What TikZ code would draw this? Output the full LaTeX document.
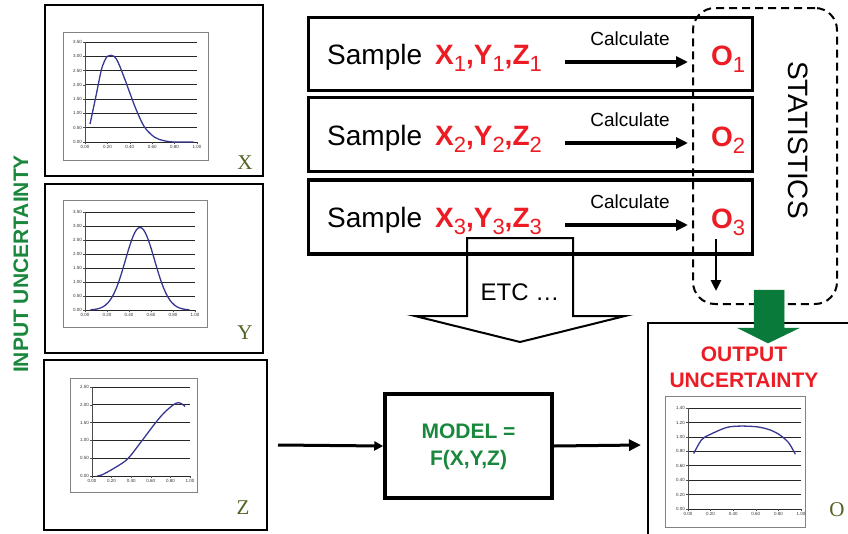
\documentclass[tikz,border=0pt]{standalone}
\usepackage{fontspec}
\setmainfont{Liberation Sans}
\newfontfamily\lblserif{Liberation Serif}
\usetikzlibrary{arrows.meta}
\definecolor{ugreen}{RGB}{25,135,60}
\definecolor{agreen}{RGB}{10,122,58}
\definecolor{ured}{RGB}{237,28,36}
\definecolor{olive}{RGB}{80,100,35}
\definecolor{cblue}{RGB}{55,55,145}
\definecolor{frgray}{RGB}{130,130,130}
\newcommand\sbx[1]{\raisebox{-7pt}{\fontsize{22}{22}\mdseries\selectfont #1}}
\tikzset{
  thickbox/.style={draw, line width=3.5pt, inner sep=0pt},
  inbox/.style={draw, line width=2.8pt, inner sep=0pt},
  gridl/.style={draw=black!85, line width=0.8pt},
  axl/.style={draw=black!70, line width=0.6pt},
  plotframe/.style={draw=frgray, line width=1pt},
  curve/.style={draw=cblue, line width=1.3pt},
  ylab/.style={anchor=east, inner sep=0pt, xshift=-3pt, font=\fontsize{4.5}{5}\selectfont, text=black!80},
  xlab/.style={anchor=north, inner sep=0pt, yshift=-3pt, font=\fontsize{4.5}{5}\selectfont, text=black!80},
  vlabel/.style={font=\lblserif\fontsize{21}{21}\selectfont, text=olive, inner sep=0pt},
  rowtext/.style={anchor=base west, inner sep=0pt, font=\fontsize{28}{30}\selectfont},
  calc/.style={inner sep=0pt, font=\fontsize{19}{20}\selectfont},
  arr/.style={line width=3.2pt, -{Triangle[length=12pt,width=11pt]}},
  gtext/.style={text=ugreen, font=\bfseries\fontsize{21}{25}\selectfont, align=center, inner sep=0pt},
}
\newcommand\drawplot[8]{%
  \begin{scope}[shift={(#2,#3)}, x=#4pt, y=#5pt]
    \foreach \i in {0,...,#6} {
      \pgfmathsetmacro\vv{\i*#7}
      \draw[gridl] (0,\vv) -- (1,\vv);
      \draw[axl] (0,\vv) -- ++(-2pt,0pt);
      \node[ylab] (#1y\i) at (0,\vv) {\pgfmathprintnumber[fixed,fixed zerofill,precision=2,assume math mode=true]{\vv}};
    }
    \pgfmathsetmacro\plottop{#6*#7}
    \draw[axl, line width=0.9pt] (0,0) -- (0,\plottop);
    \foreach \i in {0,...,5} {
      \pgfmathsetmacro\vv{\i*0.2}
      \draw[axl] (\vv,0) -- ++(0pt,-2pt);
      \node[xlab] (#1x\i) at (\vv,0) {\pgfmathprintnumber[fixed,fixed zerofill,precision=2,assume math mode=true]{\vv}};
    }
    \draw[curve] #8;
  \end{scope}}
\begin{document}
\begin{tikzpicture}[x=1pt,y=-1pt]
\useasboundingbox (0,0) rectangle (848,533);
\clip (0,0) rectangle (848,533);

% ---------- input boxes ----------
\node[inbox, minimum width=218pt, minimum height=171pt] (boxX) at (154,90.5) {};
\node[inbox, minimum width=218pt, minimum height=169pt] (boxY) at (154,268.5) {};
\node[inbox, minimum width=223pt, minimum height=170pt] (boxZ) at (155.5,445) {};

\draw[plotframe] (63,32) rectangle (208,160);
\drawplot{px}{85}{142}{112}{28.57}{7}{0.5}{plot[smooth] coordinates {(0.045,0.63) (0.10,1.65) (0.15,2.58) (0.20,3.0) (0.26,3.0) (0.30,2.75) (0.36,2.15) (0.45,1.2) (0.53,0.53) (0.62,0.17) (0.70,0.05) (0.79,0.0) (0.97,0.0)}}
\node[vlabel] (lX) at (245,163) {X};

\draw[plotframe] (63,200) rectangle (207,327);
\drawplot{py}{85}{310}{110}{28}{7}{0.5}{plot[smooth, domain=0.05:0.95, samples=40] (\x, {2.95*exp(0-0.5*pow((\x-0.5)/0.132,2))})}
\node[vlabel] (lY) at (245,333) {Y};

\draw[plotframe] (70,378) rectangle (197,492);
\drawplot{pz}{92}{476}{98}{35.6}{5}{0.5}{plot[smooth] coordinates {(0.05,0) (0.10,0.03) (0.22,0.21) (0.36,0.47) (0.49,0.92) (0.63,1.43) (0.73,1.76) (0.83,2.0) (0.88,2.06) (0.92,2.02) (0.95,1.95)}}
\node[vlabel] (lZ) at (243,508) {Z};

\node[rotate=90, text=ugreen, font=\bfseries\fontsize{21}{21}\selectfont, inner sep=0pt] (inunc) at (21,264) {INPUT UNCERTAINTY};

% ---------- sample rows ----------
\node[thickbox, minimum width=444pt, minimum height=73pt] (row1) at (530.5,54) {};
\node[thickbox, minimum width=444pt, minimum height=74pt] (row2) at (530.5,134.5) {};
\node[thickbox, minimum width=444pt, minimum height=74pt] (row3) at (530.5,217) {};

\node[rowtext] (s1) at (327,64) {Sample\hspace{13pt}\textcolor{ured}{\bfseries X\sbx1,Y\sbx1,Z\sbx1}};
\node[rowtext] (s2) at (327,145) {Sample\hspace{13pt}\textcolor{ured}{\bfseries X\sbx2,Y\sbx2,Z\sbx2}};
\node[rowtext] (s3) at (327,227) {Sample\hspace{13pt}\textcolor{ured}{\bfseries X\sbx3,Y\sbx3,Z\sbx3}};

\node[calc] (k1) at (630,39) {Calculate};
\node[calc] (k2) at (630,120) {Calculate};
\node[calc] (k3) at (630,202) {Calculate};

\coordinate (a1s) at (565,62);  \coordinate (a1e) at (688,62);
\coordinate (a2s) at (565,143); \coordinate (a2e) at (688,143);
\coordinate (a3s) at (565,225); \coordinate (a3e) at (688,225);
\draw[arr] (a1s) -- (a1e);
\draw[arr] (a2s) -- (a2e);
\draw[arr] (a3s) -- (a3e);

\node[rowtext] (o1) at (711,65) {\textcolor{ured}{\bfseries O\sbx1}};
\node[rowtext] (o2) at (711,146) {\textcolor{ured}{\bfseries O\sbx2}};
\node[rowtext] (o3) at (711,228) {\textcolor{ured}{\bfseries O\sbx3}};

% ---------- statistics ----------
\node[draw, dash pattern=on 8pt off 5pt, line width=2pt, rounded corners=22pt, minimum width=144pt, minimum height=296pt, inner sep=0pt] (stats) at (765,156) {};
\node[rotate=-90, inner sep=0pt, font=\fontsize{28}{28}\selectfont] (statt) at (798,140) {STATISTICS};
\coordinate (d1) at (716,239);
\coordinate (d2) at (716,291);
\draw[line width=2.6pt, -{Triangle[length=11pt,width=10pt]}] (d1) -- (d2);

% ---------- ETC block arrow ----------
\draw[line width=2pt, line join=miter] (467,238) -- (573,238) -- (573,316) -- (625,316) -- (520,342) -- (415,316) -- (467,316) -- cycle;
\node[inner sep=0pt, font=\fontsize{24}{24}\selectfont] (etc) at (520,292) {ETC \dots};

% ---------- model ----------
\node[thickbox, minimum width=167pt, minimum height=104pt] (model) at (468.5,446) {};
\node[gtext] (modelt) at (468.5,447) {MODEL =\\[2pt]F(X,Y,Z)};
\coordinate (min) at (278,445);
\coordinate (mout) at (641,445);
\draw[line width=3pt, -{Triangle[length=9pt,width=9pt]}] (min) -- (model.west);
\draw[line width=3pt, -{Triangle[length=12pt,width=11pt]}] (model.east) -- (mout);

% ---------- output ----------
\node[inbox, minimum width=220pt, minimum height=230pt] (outbox) at (758,438) {};
\node[text=ured, font=\bfseries\fontsize{21}{26}\selectfont, align=center, inner sep=0pt] (outt) at (744,367) {OUTPUT\\UNCERTAINTY};
\draw[plotframe] (665,396) rectangle (805,527);
\drawplot{po}{688}{509}{113}{72.1}{7}{0.2}{plot[smooth] coordinates {(0.05,0.77) (0.12,0.96) (0.19,1.03) (0.34,1.13) (0.46,1.15) (0.61,1.14) (0.72,1.10) (0.81,1.03) (0.89,0.92) (0.95,0.76)}}
\node[vlabel] (lO) at (837,510) {O};

% ---------- green arrow ----------
\draw[fill=agreen, draw=agreen, line width=0.5pt] (754,290) -- (784,290) -- (784,328) -- (799,328) -- (768,343) -- (738,328) -- (754,328) -- cycle;
\end{tikzpicture}
\end{document}
